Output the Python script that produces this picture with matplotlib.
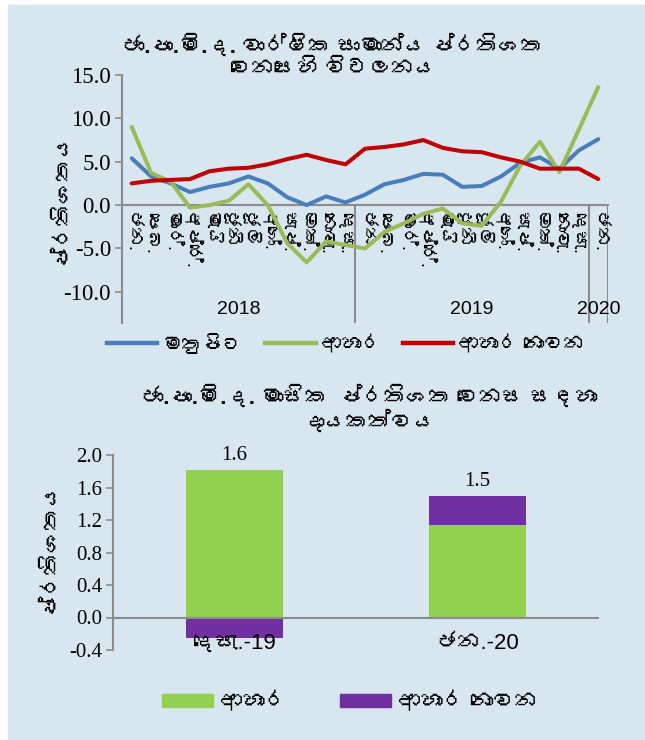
import matplotlib
matplotlib.use("Agg")
import numpy as np
import matplotlib.pyplot as plt
from matplotlib import font_manager
from matplotlib.ft2font import FT2Font
from matplotlib.patches import Rectangle, Patch
from matplotlib.lines import Line2D

# --- data -------------------------------------------------------------
months = ["ජන.", "පෙබ.", "මාර්.", "අප්‍රේ.", "මැයි", "ජූනි", "ජූලි",
          "අගෝ.", "සැප්.", "ඔක්.", "නොවැ.", "දෙසැ."]
month_labels = months + months + months[:1]          # Jan 2018 .. Jan 2020
years = ["2018", "2019", "2020"]

headline = [5.4, 3.3, 2.5, 1.5, 2.1, 2.5, 3.3, 2.5, 0.9, 0.0, 1.0, 0.3,
            1.2, 2.4, 2.9, 3.6, 3.5, 2.1, 2.2, 3.3, 4.9, 5.5, 4.2, 6.3, 7.6]
food = [9.0, 3.7, 2.7, -0.3, 0.0, 0.5, 2.4, 0.0, -4.4, -6.6, -4.2, -4.6,
        -5.0, -3.1, -2.1, -1.0, -0.4, -2.1, -2.4, 0.4, 4.6, 7.3, 3.8, 8.7, 13.6]
nonfood = [2.5, 2.8, 2.9, 3.0, 3.9, 4.2, 4.3, 4.7, 5.3, 5.8, 5.2, 4.7,
           6.5, 6.7, 7.0, 7.5, 6.6, 6.2, 6.1, 5.5, 5.0, 4.2, 4.2, 4.2, 3.0]

bar_cats = ["දෙසැ.-19", "ජන.-20"]
contrib_food = [1.82, 1.14]
contrib_nonfood = [-0.25, 0.36]

series_names = ["මතුපිට", "ආහාර", "ආහාර නොවන"]
title1 = "ජා.පා.මි.ද. වාර්ෂික සාමාන්‍ය ප්‍රතිශත\nවෙනසෙහි විචලනය"
title2 = "ජා.පා.මි.ද. මාසික  ප්‍රතිශත වෙනස සඳහා\nදායකත්වය"
ylab = "ප්‍රතිශතය"


# --- fonts: look for anything with Sinhala glyphs ----------------------
def sinhala_font():
    for f in font_manager.fontManager.ttflist:
        try:
            cmap = FT2Font(f.fname).get_charmap()
        except Exception:
            continue
        if 0x0DA2 in cmap and 0x0DCF in cmap:
            return f.name
    return None


def sh(s):
    # no text shaping in matplotlib: the zero-width joiner only shows as a box
    return s.replace("\u200d", "")


sin = sinhala_font()
SANS = ["Liberation Sans"] + ([sin] if sin else []) + ["DejaVu Sans"]
SERIF = ["Liberation Serif"] + ([sin] if sin else []) + ["DejaVu Sans"]
plt.rcParams["font.family"] = SANS

W, H = 645, 740
bg = "#d7e6ef"
grey = "#8c8c8c"
c_head, c_food, c_nonfood = "#4a7ebb", "#9bbb59", "#c00000"
c_bfood, c_bnon = "#92d050", "#7030a0"

fig = plt.figure(figsize=(W / 100, H / 100), dpi=100)
fig.patches.append(Rectangle((8 / W, 0), 1 - 8 / W, 1 - 5 / H,
                             transform=fig.transFigure, color=bg, zorder=-5))

# --- top: line chart --------------------------------------------------
ax1 = fig.add_axes([122 / W, 1 - 323 / H, (608 - 122) / W, (323 - 75) / H])
ax1.set_facecolor("none")
x = np.arange(len(month_labels))
lw = 2.9
ax1.plot(x, headline, color=c_head, lw=lw, solid_capstyle="round")
ax1.plot(x, food, color=c_food, lw=lw, solid_capstyle="round")
ax1.plot(x, nonfood, color=c_nonfood, lw=lw, solid_capstyle="round")

ax1.set_xlim(-0.5, len(x) - 0.5)
ax1.set_ylim(-13.6, 15)
ax1.set_yticks([-10, -5, 0, 5, 10, 15])
ax1.set_yticklabels([f"{v:.1f}" for v in [-10, -5, 0, 5, 10, 15]],
                    family=SERIF, fontsize=16.5)
ax1.tick_params(axis="y", direction="out", length=5, width=1.2, color=grey, pad=3)
for s in ["top", "right"]:
    ax1.spines[s].set_visible(False)
ax1.spines["left"].set_color(grey)
ax1.spines["left"].set_linewidth(1.5)
ax1.spines["bottom"].set_position(("data", 0))
ax1.spines["bottom"].set_color(grey)
ax1.spines["bottom"].set_linewidth(1.5)
ax1.spines["bottom"].set_zorder(1)
ax1.set_xticks(x)
ax1.set_xticklabels([sh(m) for m in month_labels], rotation=-90, fontsize=13,
                    va="top")
ax1.tick_params(axis="x", length=0, pad=5)
ax1.vlines([11.5, 23.5, 24.5], -13.6, 0, color=grey, lw=1.5, zorder=1)
for lab, xc in zip(years, [5.5, 17.5, 24.0]):
    ax1.text(xc, -12.1, lab, ha="center", va="center", fontsize=14)
fig.text(61 / W, 1 - 197 / H, sh(ylab), rotation=90, ha="center", va="center",
         fontsize=16, fontweight="bold")
fig.text(333 / W, 1 - 57 / H, sh(title1), ha="center", va="center",
         fontsize=16, fontweight="bold", linespacing=1.1)

handles = [Line2D([], [], color=c, lw=3.2) for c in (c_head, c_food, c_nonfood)]
fig.legend(handles, [sh(n) for n in series_names], loc="center", ncol=3,
           frameon=False, bbox_to_anchor=(346 / W, 1 - 344 / H), fontsize=14.5,
           handlelength=2.5, handletextpad=0.25, columnspacing=1.1)

# --- bottom: stacked bars ---------------------------------------------
ax2 = fig.add_axes([113 / W, 1 - 650 / H, (599 - 113) / W, (650 - 455) / H])
ax2.set_facecolor("none")
xb = np.arange(len(bar_cats))
bw = 0.4
ax2.bar(xb, contrib_food, bw, color=c_bfood)
non_bottom = [f if n >= 0 else 0 for f, n in zip(contrib_food, contrib_nonfood)]
ax2.bar(xb, contrib_nonfood, bw, bottom=non_bottom, color=c_bnon)
for i in xb:
    top = max(contrib_food[i], 0) + max(contrib_nonfood[i], 0)
    total = contrib_food[i] + contrib_nonfood[i]
    ax2.annotate(f"{total:.1f}", (i, top), xytext=(0, 3), textcoords="offset points",
                 ha="center", va="bottom", family=SERIF, fontsize=15)

ax2.set_xlim(-0.5, 1.5)
ax2.set_ylim(-0.4, 2.0)
yt = [-0.4, 0.0, 0.4, 0.8, 1.2, 1.6, 2.0]
ax2.set_yticks(yt)
ax2.set_yticklabels([f"{v:.1f}" for v in yt], family=SERIF, fontsize=15)
ax2.tick_params(axis="y", direction="out", length=5, width=1.2, color=grey, pad=3)
for s in ["top", "right", "bottom"]:
    ax2.spines[s].set_visible(False)
ax2.spines["left"].set_color(grey)
ax2.spines["left"].set_linewidth(1.5)
ax2.axhline(0, color=grey, lw=1.5)
ax2.set_xticks(xb)
ax2.set_xticklabels([sh(c) for c in bar_cats], fontsize=16)
ax2.tick_params(axis="x", length=0, pad=-12)
fig.text(49 / W, 1 - 546 / H, sh(ylab), rotation=90, ha="center", va="center",
         fontsize=16, fontweight="bold")
fig.text(369 / W, 1 - 410 / H, sh(title2), ha="center", va="center",
         fontsize=16, fontweight="bold", linespacing=1.1)

phandles = [Patch(color=c_bfood), Patch(color=c_bnon)]
fig.legend(phandles, [sh(n) for n in series_names[1:]], loc="center", ncol=2,
           frameon=False, bbox_to_anchor=(350 / W, 1 - 703 / H), fontsize=16,
           handlelength=2.3, handleheight=0.55, handletextpad=0.3,
           columnspacing=2.4)

fig.savefig("out.png", dpi=100)
